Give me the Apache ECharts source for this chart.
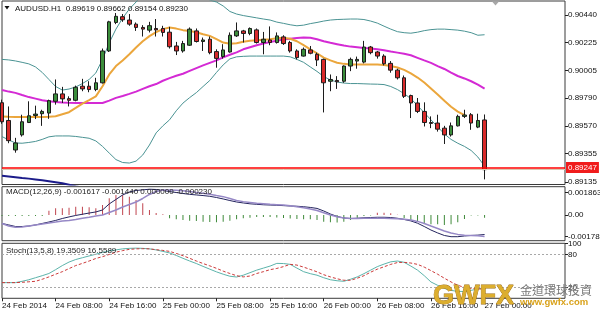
<!DOCTYPE html>
<html><head><meta charset="utf-8">
<script src="https://cdn.jsdelivr.net/npm/echarts@6/dist/echarts.min.js"></script>
<style>html,body{margin:0;padding:0;background:#fff}#c{width:600px;height:313px}</style>
</head><body><div id="c"></div>
<script>
const categories = [
"24 Feb 00:00","24 Feb 01:00","24 Feb 02:00","24 Feb 03:00","24 Feb 04:00","24 Feb 05:00","24 Feb 06:00","24 Feb 07:00",
"24 Feb 08:00","24 Feb 09:00","24 Feb 10:00","24 Feb 11:00","24 Feb 12:00","24 Feb 13:00","24 Feb 14:00","24 Feb 15:00",
"24 Feb 16:00","24 Feb 17:00","24 Feb 18:00","24 Feb 19:00","24 Feb 20:00","24 Feb 21:00","24 Feb 22:00","24 Feb 23:00",
"25 Feb 00:00","25 Feb 01:00","25 Feb 02:00","25 Feb 03:00","25 Feb 04:00","25 Feb 05:00","25 Feb 06:00","25 Feb 07:00",
"25 Feb 08:00","25 Feb 09:00","25 Feb 10:00","25 Feb 11:00","25 Feb 12:00","25 Feb 13:00","25 Feb 14:00","25 Feb 15:00",
"25 Feb 16:00","25 Feb 17:00","25 Feb 18:00","25 Feb 19:00","25 Feb 20:00","25 Feb 21:00","25 Feb 22:00","25 Feb 23:00",
"26 Feb 00:00","26 Feb 01:00","26 Feb 02:00","26 Feb 03:00","26 Feb 04:00","26 Feb 05:00","26 Feb 06:00","26 Feb 07:00",
"26 Feb 08:00","26 Feb 09:00","26 Feb 10:00","26 Feb 11:00","26 Feb 12:00","26 Feb 13:00","26 Feb 14:00","26 Feb 15:00",
"26 Feb 16:00","26 Feb 17:00","26 Feb 18:00","26 Feb 19:00","26 Feb 20:00","26 Feb 21:00","26 Feb 22:00","26 Feb 23:00",
"27 Feb 00:00"];
const shiftSlots = ["27 Feb 01:00","27 Feb 02:00","27 Feb 03:00","27 Feb 04:00","27 Feb 05:00","27 Feb 06:00",
"27 Feb 07:00","27 Feb 08:00","27 Feb 09:00","27 Feb 10:00","27 Feb 11:00","27 Feb 12:00"];
const timeLabels = ["24 Feb 2014","24 Feb 08:00","24 Feb 16:00","25 Feb 00:00","25 Feb 08:00","25 Feb 16:00",
"26 Feb 00:00","26 Feb 08:00","26 Feb 16:00","27 Feb 00:00"];
const priceTicks = [0.89135,0.89355,0.89570,0.89790,0.90005,0.90225,0.90440];
const macdTicks = [-0.001783, 0, 0.001863];
const stochTicks = [20, 80, 100];
const stochLevels = [20, 80];
const currentLine = 0.89247;
const bidLine = 0.89230;

const open = [0.89754,0.89615,0.89384,0.89502,0.89599,0.89654,0.89668,0.89673,0.89765,0.89823,
0.89786,0.89773,0.89883,0.89883,0.89857,0.89910,0.90159,0.90382,0.90427,0.90401,
0.90369,0.90343,0.90322,0.90335,0.90335,0.90306,0.90198,0.90159,0.90204,0.90316,
0.90233,0.90251,0.90154,0.90115,0.90151,0.90277,0.90316,0.90296,0.90324,0.90225,
0.90245,0.90225,0.90269,0.90225,0.90159,0.90119,0.90167,0.90133,0.90093,0.89922,
0.89928,0.89922,0.90041,0.90080,0.90072,0.90190,0.90151,0.90119,0.90062,0.90009,
0.89949,0.89810,0.89752,0.89686,0.89599,0.89595,0.89555,0.89502,0.89573,0.89647,
0.89660,0.89563,0.89619];
const high = [0.89778,0.89725,0.89479,0.89660,0.89765,0.89731,0.89699,0.89778,0.89936,0.89878,
0.89804,0.89888,0.89941,0.89922,0.89949,0.90178,0.90395,0.90456,0.90448,0.90448,
0.90382,0.90361,0.90387,0.90409,0.90356,0.90348,0.90230,0.90238,0.90343,0.90335,
0.90264,0.90272,0.90172,0.90212,0.90304,0.90382,0.90324,0.90343,0.90335,0.90308,
0.90351,0.90304,0.90282,0.90238,0.90172,0.90186,0.90198,0.90146,0.90099,0.89975,
0.89962,0.90046,0.90107,0.90115,0.90238,0.90198,0.90159,0.90133,0.90080,0.90020,
0.89967,0.89817,0.89791,0.89757,0.89647,0.89660,0.89573,0.89599,0.89660,0.89699,
0.89673,0.89668,0.89662];
const low = [0.89589,0.89437,0.89363,0.89489,0.89595,0.89626,0.89573,0.89628,0.89739,0.89752,
0.89725,0.89765,0.89844,0.89836,0.89844,0.89904,0.90151,0.90369,0.90387,0.90356,
0.90316,0.90272,0.90304,0.90272,0.90272,0.90178,0.90127,0.90146,0.90198,0.90225,
0.90159,0.90133,0.90028,0.90099,0.90146,0.90269,0.90225,0.90282,0.90217,0.90133,
0.90204,0.90217,0.90206,0.90146,0.90093,0.90115,0.90133,0.90041,0.89678,0.89844,
0.89862,0.89910,0.90001,0.90020,0.90062,0.90133,0.90099,0.90046,0.89989,0.89936,
0.89791,0.89634,0.89673,0.89568,0.89555,0.89528,0.89431,0.89489,0.89568,0.89634,
0.89542,0.89555,0.89154];
const close = [0.89605,0.89457,0.89439,0.89605,0.89652,0.89665,0.89686,0.89770,0.89823,0.89784,
0.89773,0.89875,0.89862,0.89857,0.89910,0.90159,0.90387,0.90430,0.90403,0.90369,
0.90343,0.90330,0.90357,0.90324,0.90304,0.90192,0.90159,0.90217,0.90330,0.90233,
0.90245,0.90146,0.90101,0.90167,0.90282,0.90316,0.90296,0.90335,0.90225,0.90251,
0.90225,0.90277,0.90217,0.90159,0.90107,0.90172,0.90141,0.90088,0.89910,0.89936,
0.89918,0.90041,0.90093,0.90093,0.90190,0.90146,0.90119,0.90059,0.90009,0.89949,
0.89804,0.89752,0.89686,0.89599,0.89592,0.89547,0.89502,0.89573,0.89647,0.89658,
0.89595,0.89615,0.89230];

const maFast = [0.89647,0.89644,0.89642,0.89642,0.89642,0.89642,0.89642,0.89644,0.89648,0.89664,
0.89680,0.89713,0.89747,0.89774,0.89804,0.89883,0.89975,0.90041,0.90085,0.90133,
0.90186,0.90235,0.90275,0.90306,0.90330,0.90342,0.90334,0.90322,0.90316,0.90306,
0.90290,0.90277,0.90251,0.90225,0.90215,0.90219,0.90231,0.90239,0.90243,0.90247,
0.90251,0.90259,0.90263,0.90255,0.90235,0.90204,0.90172,0.90141,0.90107,0.90085,
0.90067,0.90058,0.90054,0.90054,0.90054,0.90054,0.90054,0.90050,0.90042,0.90030,
0.90011,0.89983,0.89951,0.89912,0.89865,0.89818,0.89770,0.89723,0.89684,0.89656,
null,null,null];
const maSlow = [0.89853,0.89841,0.89831,0.89814,0.89798,0.89786,0.89774,0.89765,0.89760,0.89756,
0.89753,0.89752,0.89752,0.89752,0.89752,0.89752,0.89770,0.89792,0.89807,0.89823,
0.89841,0.89862,0.89883,0.89900,0.89926,0.89946,0.89965,0.89981,0.90003,0.90025,
0.90046,0.90066,0.90085,0.90109,0.90129,0.90148,0.90172,0.90188,0.90204,0.90217,
0.90229,0.90239,0.90249,0.90255,0.90260,0.90264,0.90263,0.90251,0.90235,0.90223,
0.90212,0.90201,0.90193,0.90188,0.90182,0.90178,0.90172,0.90164,0.90154,0.90146,
0.90137,0.90125,0.90105,0.90085,0.90066,0.90041,0.90018,0.89989,0.89963,0.89944,
0.89922,0.89896,0.89865];
const bbUpper = [0.90093,0.90089,0.90081,0.90070,0.90058,0.90034,0.89991,0.89936,0.89881,0.89853,
0.89861,0.89877,0.89904,0.89936,0.89987,0.90093,0.90223,0.90330,0.90416,0.90487,
0.90542,0.90598,0.90645,0.90684,0.90708,0.90724,0.90724,0.90708,0.90676,0.90637,
0.90598,0.90558,0.90542,0.90511,0.90468,0.90448,0.90436,0.90427,0.90418,0.90409,
0.90401,0.90385,0.90375,0.90364,0.90356,0.90361,0.90373,0.90382,0.90393,0.90401,
0.90405,0.90407,0.90409,0.90409,0.90405,0.90393,0.90377,0.90353,0.90330,0.90310,
0.90302,0.90298,0.90306,0.90318,0.90326,0.90330,0.90330,0.90326,0.90322,0.90314,
0.90302,0.90282,0.90286];
const bbLower = [0.89489,0.89463,0.89439,0.89437,0.89443,0.89451,0.89467,0.89487,0.89494,0.89494,
0.89494,0.89490,0.89483,0.89476,0.89455,0.89412,0.89360,0.89309,0.89286,0.89282,
0.89297,0.89345,0.89423,0.89518,0.89573,0.89620,0.89691,0.89751,0.89794,0.89833,
0.89881,0.89928,0.89991,0.90050,0.90097,0.90113,0.90117,0.90119,0.90119,0.90119,
0.90119,0.90119,0.90119,0.90113,0.90093,0.90070,0.90034,0.89999,0.89959,0.89932,
0.89916,0.89908,0.89904,0.89904,0.89902,0.89900,0.89899,0.89896,0.89881,0.89857,
0.89825,0.89786,0.89731,0.89676,0.89620,0.89565,0.89510,0.89467,0.89437,0.89412,
0.89380,0.89329,0.89258];
const maLong = [0.89183,0.89177,0.89171,0.89165,0.89160,0.89154,0.89148,0.89140,0.89132,0.89124,
0.89112,0.89100,0.89089];

const macdHist = [-0.00008,-0.00008,-0.00008,-0.00008,-0.00008,-0.00008,-0.00008,0.00035,0.00055,0.00055,
0.00060,0.00068,0.00068,0.00063,0.00055,0.00082,0.00137,0.00165,0.00165,0.00151,
0.00123,0.00096,0.00041,0.00016,0.00006,-0.00027,-0.00035,-0.00041,-0.00047,-0.00049,
-0.00055,-0.00058,-0.00060,-0.00055,-0.00047,-0.00035,-0.00027,-0.00022,-0.00016,-0.00016,
-0.00016,-0.00021,-0.00025,-0.00029,-0.00033,-0.00035,-0.00035,-0.00041,-0.00055,-0.00060,
-0.00063,-0.00055,-0.00041,-0.00022,-0.00008,-0.00004,0.00019,0.00019,0.00014,0.00002,
-0.00027,-0.00041,-0.00055,-0.00068,-0.00077,-0.00077,-0.00082,-0.00077,-0.00060,-0.00033,
-0.00004,-0.00004,-0.00023];
const macdMain = [-0.00070,-0.00082,-0.00095,-0.00095,-0.00091,-0.00082,-0.00070,-0.00058,-0.00045,-0.00029,
-0.00016,-0.00004,0.00006,0.00016,0.00025,0.00041,0.00091,0.00128,0.00165,0.00189,
0.00202,0.00207,0.00212,0.00210,0.00202,0.00193,0.00185,0.00177,0.00170,0.00165,
0.00160,0.00154,0.00144,0.00132,0.00119,0.00107,0.00099,0.00092,0.00088,0.00084,
0.00082,0.00080,0.00077,0.00074,0.00072,0.00068,0.00062,0.00054,0.00033,0.00008,
-0.00012,-0.00025,-0.00029,-0.00027,-0.00023,-0.00021,-0.00019,-0.00019,-0.00021,-0.00027,
-0.00037,-0.00049,-0.00068,-0.00095,-0.00124,-0.00148,-0.00169,-0.00179,-0.00179,-0.00173,
-0.00169,-0.00166,-0.00161];
const macdSignal = [-0.00070,-0.00091,-0.00101,-0.00099,-0.00091,-0.00082,-0.00074,-0.00066,-0.00058,-0.00049,
-0.00045,-0.00037,-0.00027,-0.00019,-0.00008,0,0.00021,0.00041,0.00066,0.00086,
0.00107,0.00136,0.00169,0.00193,0.00206,0.00206,0.00203,0.00200,0.00193,0.00185,
0.00179,0.00170,0.00160,0.00151,0.00136,0.00119,0.00110,0.00103,0.00096,0.00092,
0.00088,0.00085,0.00082,0.00076,0.00067,0.00059,0.00049,0.00037,0.00018,0,
-0.00015,-0.00025,-0.00030,-0.00029,-0.00027,-0.00027,-0.00027,-0.00027,-0.00029,-0.00031,
-0.00035,-0.00041,-0.00053,-0.00070,-0.00091,-0.00111,-0.00132,-0.00148,-0.00160,-0.00167,
-0.00169,-0.00171,-0.00177];
const stochMain = [28.5,28.5,28.5,30.9,33.7,37.4,41.1,45.1,52.1,59.5,
65.9,70.5,73.8,77,80.1,83.4,86.2,88,89.9,90.8,
91.2,90.8,89.9,88,85.3,82.5,77.9,72.7,67.8,63.2,
58,53,48.1,43.8,40.1,38.7,42,46.6,51.2,54.9,
58.6,63.5,63.2,61.7,54.9,48.4,44.8,42,37.4,33.7,
31.9,30.9,34.6,38.9,44.8,51.2,57.6,62.2,66.3,67.8,
65.4,58.6,51.2,41.1,29.7,23.6,18,14.4,12.5,12.5,
14.4,17.1,19.4];
const stochSignal = [28.5,28.5,28.5,29.1,30,30.9,34.6,38.9,43.8,48.4,
54,59.5,63.5,67.8,72.4,75.7,79.7,83.8,86.7,89,
89.9,90.2,89.9,88.4,87.1,85.3,81.6,77.5,72.7,67.8,
63.2,59,54.5,49.4,45.1,41.1,38.9,40.5,45.1,48.4,
52.1,54.3,57.6,61.7,60.4,56.7,52.5,48.1,42.9,38.9,
35.5,32.8,32.8,36.5,41.1,47.5,53,57.3,61.7,65,
65.4,64.1,61.7,56.7,50.3,43.8,36.5,29.7,23.6,19.9,
18,17.1,16.6];

const FONT = 'Liberation Sans';
const axisCats = categories.concat(shiftSlots);
const last = open.length - 1;
const candles = open.map((o, i) => [o, close[i], low[i], high[i]]);

function hiddenX(gi) {
  return {type:'category', gridIndex:gi, data:axisCats, boundaryGap:false,
    axisLine:{show:false}, axisTick:{show:false}, axisLabel:{show:false}, splitLine:{show:false}};
}
function yAx(gi, min, max, ticks, fmt) {
  return {type:'value', gridIndex:gi, position:'right', min:min, max:max,
    axisLine:{show:false}, splitLine:{show:false},
    axisTick:{show:true, customValues:ticks, length:3, lineStyle:{color:'#222'}},
    axisLabel:{customValues:ticks, formatter:fmt, color:'#111', fontSize:8, fontFamily:FONT, margin:3}};
}
const showTick = (idx) => idx % 8 === 0 && idx <= last;

const chart = echarts.init(document.getElementById('c'), null, {renderer:'canvas'});
chart.setOption({
  animation:false,
  backgroundColor:'#fff',
  grid:[
    {left:2, top:1, width:563, height:183.5, show:true, borderColor:'#3a3a3a', borderWidth:1, outerBoundsMode:'none'},
    {left:2, top:186.7, width:563, height:54, show:true, borderColor:'#3a3a3a', borderWidth:1, outerBoundsMode:'none'},
    {left:2, top:243.3, width:563, height:55, show:true, borderColor:'#3a3a3a', borderWidth:1, outerBoundsMode:'none'}
  ],
  xAxis:[
    hiddenX(0), hiddenX(1),
    {type:'category', gridIndex:2, data:axisCats, boundaryGap:false,
      axisLine:{show:false}, splitLine:{show:false},
      axisTick:{show:true, interval:showTick, length:3, lineStyle:{color:'#222'}},
      axisLabel:{interval:showTick, formatter:(v, idx) => timeLabels[idx / 8] || '',
        align:'left', color:'#111', fontSize:8, fontFamily:FONT, margin:3}}
  ],
  yAxis:[
    yAx(0, 0.89114, 0.90550, priceTicks, v => v.toFixed(5)),
    yAx(1, -0.00212, 0.00233, macdTicks, v => v === 0 ? '0.00' : v.toFixed(6)),
    yAx(2, 0, 100, stochTicks, v => String(v))
  ],
  series:[
    {type:'line', xAxisIndex:0, yAxisIndex:0, data:bbUpper, symbol:'none', z:2,
      lineStyle:{color:'#4a9393', width:1}},
    {type:'line', xAxisIndex:0, yAxisIndex:0, data:bbLower, symbol:'none', z:2,
      lineStyle:{color:'#4a9393', width:1},
      markLine:{symbol:['none','none'], silent:true, animation:false, precision:5,
        data:[
          {yAxis:bidLine, lineStyle:{color:'#d9c9b0', width:1, type:'solid'}, label:{show:false}},
          {yAxis:currentLine, lineStyle:{color:'#ff0000', width:1.5, type:'solid'},
            label:{show:true, position:'end', distance:1, formatter:currentLine.toFixed(5),
              color:'#fff', backgroundColor:'#f01c1c', padding:[2,2,1,2], fontSize:8, fontFamily:FONT}}
        ]}},
    {type:'line', xAxisIndex:0, yAxisIndex:0, data:maSlow, symbol:'none', z:2,
      lineStyle:{color:'#d42ad4', width:2}},
    {type:'line', xAxisIndex:0, yAxisIndex:0, data:maFast, symbol:'none', z:2,
      lineStyle:{color:'#eba63c', width:2}},
    {type:'line', xAxisIndex:0, yAxisIndex:0, data:maLong, symbol:'none', z:2,
      lineStyle:{color:'#1c1c8a', width:2}},
    {type:'candlestick', xAxisIndex:0, yAxisIndex:0, data:candles, barWidth:4, z:3,
      itemStyle:{color:'#3b8d3b', color0:'#d82a2a', borderColor:'#1c1c1c', borderColor0:'#1c1c1c',
        borderColorDoji:'#1c1c1c', borderWidth:1}},
    {type:'bar', xAxisIndex:1, yAxisIndex:1, data:macdHist, barWidth:1,
      itemStyle:{color:(p) => p.value >= 0 ? '#c0454f' : '#3f8a3a'}},
    {type:'line', xAxisIndex:1, yAxisIndex:1, data:macdMain, symbol:'none',
      lineStyle:{color:'#24245e', width:1}},
    {type:'line', xAxisIndex:1, yAxisIndex:1, data:macdSignal, symbol:'none',
      lineStyle:{color:'#9688c6', width:1.5}},
    {type:'line', xAxisIndex:2, yAxisIndex:2, data:stochMain, symbol:'none',
      lineStyle:{color:'#5cb4ab', width:1},
      markLine:{symbol:['none','none'], silent:true, animation:false, label:{show:false},
        lineStyle:{color:'#a8a8a8', width:1, type:[2,2]},
        data:stochLevels.map(v => ({yAxis:v}))}},
    {type:'line', xAxisIndex:2, yAxisIndex:2, data:stochSignal, symbol:'none',
      lineStyle:{color:'#cc3a3a', width:1, type:[3,2]}}
  ],
  graphic:[
    {type:'polygon', z:100, shape:{points:[[4.5,6],[9.5,6],[7,9.5]]}, style:{fill:'#111'}},
    {type:'text', z:100, x:15, y:8.3, style:{text:'AUDUSD.H1  ' + [open[last], high[last], low[last], close[last]].map(v => v.toFixed(5)).join(' '),
      font:'8px "' + FONT + '"', fill:'#111', verticalAlign:'middle'}},
    {type:'text', z:100, x:6, y:191.6, style:{text:'MACD(12,26,9) -0.001617 -0.001440 0.000000 -0.000230',
      font:'8px "' + FONT + '"', fill:'#222', verticalAlign:'middle'}},
    {type:'text', z:100, x:6, y:250.5, style:{text:'Stoch(13,5,8) 19.3509 16.5589',
      font:'8px "' + FONT + '"', fill:'#222', verticalAlign:'middle'}},
    {type:'polygon', z:100, shape:{points:[[492,1.5],[499,1.5],[495.5,5.5]]}, style:{fill:'#a8a8a8'}},
    {type:'text', z:100, x:433, y:296.5, style:{text:'GWFX', font:'bold 27px "' + FONT + '"',
      fill:'#dcae2e', stroke:'#9c6c12', lineWidth:0.8, verticalAlign:'middle'}},
    {type:'text', z:100, x:520, y:290.5, style:{text:'金道環球投資', font:'12px "Noto Sans CJK TC"',
      fill:'#777', verticalAlign:'middle'}},
    {type:'text', z:100, x:520, y:302, style:{text:'www.gwfx.com', font:'bold 9.5px "' + FONT + '"',
      fill:'#d9a21b', verticalAlign:'middle'}}
  ]
});
</script>
</body></html>
